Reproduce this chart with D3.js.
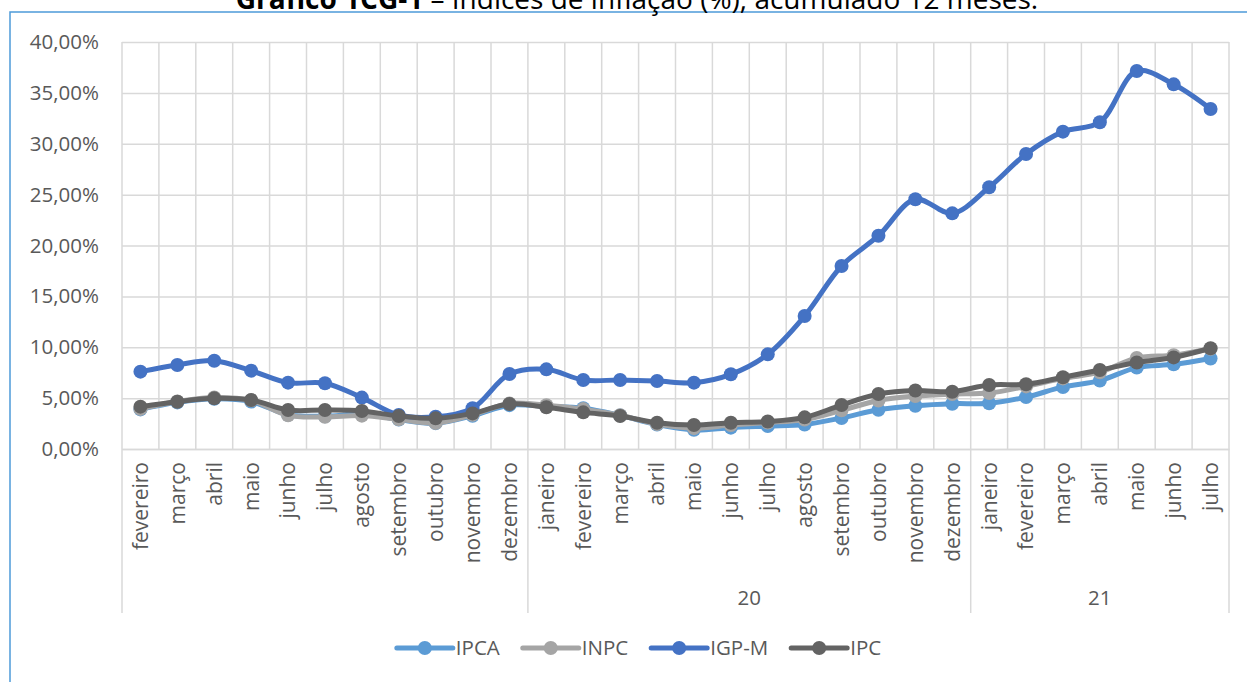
<!DOCTYPE html>
<html>
<head>
<meta charset="utf-8">
<script src="https://cdn.jsdelivr.net/npm/d3@7"></script>
<style>
  html, body { margin: 0; padding: 0; background: #ffffff; }
  svg { display: block; font-family: "Open Sans", "DejaVu Sans", sans-serif; }
</style>
</head>
<body>
<svg id="chart" width="1247" height="682"></svg>
<script>
// ---------- DATA ----------
const months = ["fevereiro","março","abril","maio","junho","julho","agosto","setembro","outubro","novembro","dezembro",
                "janeiro","fevereiro","março","abril","maio","junho","julho","agosto","setembro","outubro","novembro","dezembro",
                "janeiro","fevereiro","março","abril","maio","junho","julho"];
const groupLabels = ["", "20", "21"];
const groupSizes = [11, 12, 7];
const yTicks = [0, 5, 10, 15, 20, 25, 30, 35, 40];
const seriesNames = ["IPCA", "INPC", "IGP-M", "IPC"];

const ipca = [3.89,4.58,4.94,4.66,3.37,3.22,3.43,2.89,2.54,3.27,4.31,
              4.19,4.01,3.30,2.40,1.88,2.10,2.25,2.40,3.05,3.85,4.25,4.45,
              4.50,5.10,6.10,6.72,8.00,8.32,8.90];
const inpc = [3.94,4.67,5.07,4.78,3.31,3.16,3.28,2.92,2.55,3.37,4.48,
              4.30,3.92,3.31,2.46,2.05,2.35,2.60,2.90,3.80,4.77,5.20,5.40,
              5.50,6.15,6.94,7.55,8.95,9.22,9.85];
const igpm = [7.60,8.26,8.68,7.70,6.52,6.46,5.05,3.34,3.17,4.00,7.37,
              7.83,6.78,6.78,6.68,6.52,7.34,9.30,13.07,17.99,20.96,24.54,23.16,
              25.72,28.99,31.19,32.11,37.15,35.84,33.42];
const ipc  = [4.16,4.65,4.98,4.82,3.83,3.83,3.73,3.24,3.01,3.50,4.42,
              4.10,3.60,3.24,2.58,2.36,2.58,2.70,3.11,4.32,5.40,5.75,5.63,
              6.29,6.36,7.05,7.76,8.50,9.00,9.90];

const seriesColors = ["#5b9bd5", "#a5a5a5", "#4472c4", "#636363"];

// ---------- LAYOUT ----------
const svg = d3.select("#chart");
const plot = { left: 122, right: 1229, top: 42, bottom: 449 };
const textColor = "#595959";
const gridColor = "#d9d9d9";

// frame (blue border) + title
svg.append("rect").attr("x", 10).attr("y", 12).attr("width", 1260).attr("height", 700)
  .attr("fill", "#ffffff").attr("stroke", "#4e9bd9").attr("stroke-width", 1.5);

const title = svg.append("text").attr("x", 637).attr("y", 9).attr("text-anchor", "middle")
  .attr("font-size", 28).attr("fill", "#000");
title.append("tspan").attr("font-weight", "bold").text("Gráfico 1CG-1");
title.append("tspan").text(" – Índices de inflação (%), acumulado 12 meses.");

const idx = d3.range(months.length);
const x = d3.scaleBand().domain(idx).range([plot.left, plot.right]).padding(0);
const y = d3.scaleLinear().domain([0, 40]).range([plot.bottom, plot.top]);

const pct = d3.formatLocale({ decimal: ",", thousands: ".", grouping: [3], currency: ["R$", ""] });
const fmt = v => pct.format(".2f")(v) + "%";

// horizontal grid + y labels
const yAxis = svg.append("g").attr("transform", `translate(${plot.left},0)`)
  .call(d3.axisLeft(y).tickValues(yTicks).tickFormat(fmt)
        .tickSize(-(plot.right - plot.left)).tickPadding(23));
yAxis.select(".domain").remove();
yAxis.selectAll(".tick line").attr("stroke", gridColor).attr("stroke-width", 1.5);
yAxis.selectAll(".tick text").attr("font-size", 20.5).attr("fill", textColor)
  .attr("font-family", "'Open Sans', sans-serif");

// vertical gridlines at category boundaries
const bounds = idx.map(i => x(i)).concat([plot.right]);
svg.append("g").selectAll("line").data(bounds).join("line")
  .attr("x1", d => d).attr("x2", d => d)
  .attr("y1", plot.top).attr("y2", plot.bottom)
  .attr("stroke", gridColor).attr("stroke-width", 1.5);

// x axis with month labels
const xAxis = svg.append("g").attr("transform", `translate(0,${plot.bottom})`)
  .call(d3.axisBottom(x).tickFormat(i => months[i]).tickSize(0));
xAxis.select(".domain").attr("stroke", gridColor).attr("stroke-width", 1.5);
xAxis.selectAll(".tick text")
  .attr("font-size", 21).attr("fill", textColor)
  .attr("font-family", "'Open Sans', sans-serif")
  .attr("text-anchor", "end")
  .attr("transform", "rotate(-90)")
  .attr("x", -13).attr("y", 0).attr("dy", "0.35em");

// group separators & group labels
let acc = 0;
const groupBounds = [plot.left];
const groupCenters = [];
groupSizes.forEach(n => {
  const start = x(acc);
  acc += n;
  const end = acc < months.length ? x(acc) : plot.right;
  groupBounds.push(end);
  groupCenters.push((start + end) / 2);
});
svg.append("g").selectAll("line").data(groupBounds).join("line")
  .attr("x1", d => d).attr("x2", d => d)
  .attr("y1", plot.bottom).attr("y2", 613)
  .attr("stroke", gridColor).attr("stroke-width", 1.5);
svg.append("g").selectAll("text").data(groupLabels).join("text")
  .attr("x", (d, i) => groupCenters[i]).attr("y", 598).attr("dy", "0.35em")
  .attr("text-anchor", "middle").attr("font-size", 20.5).attr("fill", textColor)
  .text(d => d);

// series
const allSeries = [ipca, inpc, igpm, ipc];
const line = d3.line()
  .x((d, i) => x(i) + x.bandwidth() / 2)
  .y(d => y(d))
  .curve(d3.curveCatmullRom.alpha(0.5));

allSeries.forEach((vals, s) => {
  const g = svg.append("g");
  g.append("path").datum(vals).attr("d", line)
    .attr("fill", "none").attr("stroke", seriesColors[s]).attr("stroke-width", 5)
    .attr("stroke-linejoin", "round").attr("stroke-linecap", "round");
  g.selectAll("circle").data(vals).join("circle")
    .attr("cx", (d, i) => x(i) + x.bandwidth() / 2)
    .attr("cy", d => y(d))
    .attr("r", 7).attr("fill", seriesColors[s]);
});

// legend
const legend = svg.append("g");
const legY = 648;
const items = seriesNames.map((name, i) => {
  const g = legend.append("g");
  g.append("line").attr("x1", 0).attr("x2", 56).attr("y1", 0).attr("y2", 0)
    .attr("stroke", seriesColors[i]).attr("stroke-width", 5).attr("stroke-linecap", "round");
  g.append("circle").attr("cx", 28).attr("cy", 0).attr("r", 7).attr("fill", seriesColors[i]);
  const t = g.append("text").attr("x", 59).attr("y", 0).attr("dy", "0.35em")
    .attr("font-size", 20.5).attr("fill", textColor).text(name);
  return { g, w: 59 + t.node().getComputedTextLength() };
});
const gap = 23;
const total = d3.sum(items, d => d.w) + gap * (items.length - 1);
let lx = 639 - total / 2;
items.forEach(it => {
  it.g.attr("transform", `translate(${lx},${legY})`);
  lx += it.w + gap;
});
</script>
</body>
</html>
